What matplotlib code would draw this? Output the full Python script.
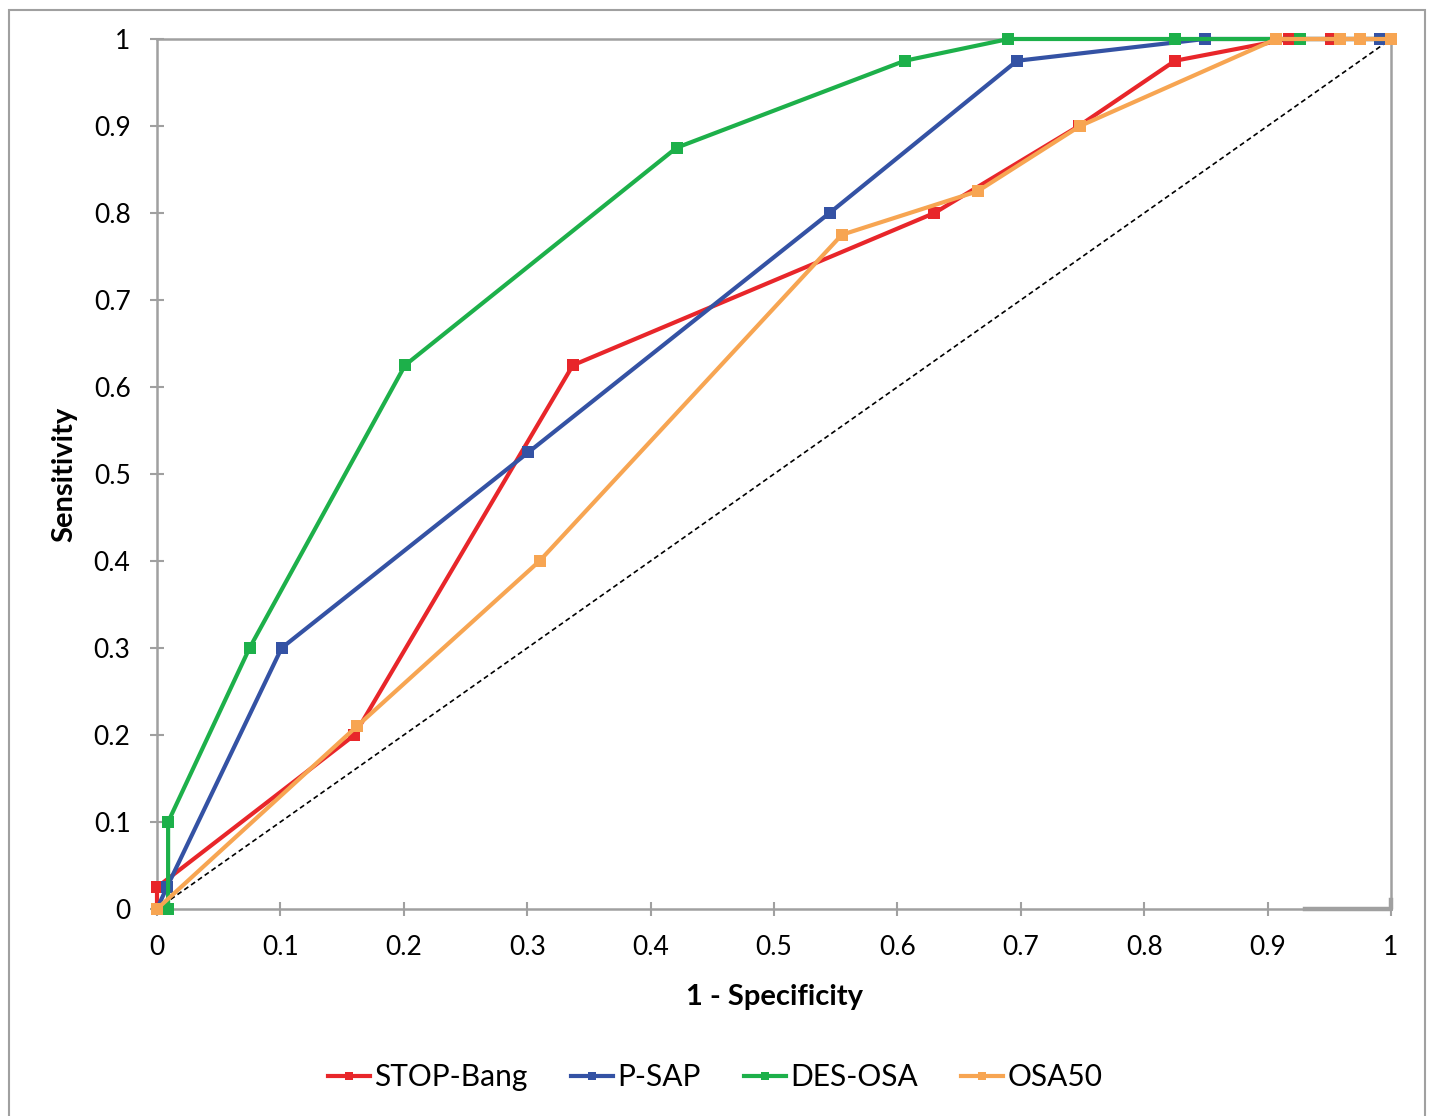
import matplotlib
matplotlib.use("Agg")
import matplotlib.pyplot as plt
from matplotlib.patches import Rectangle

plt.rcParams['font.family'] = ['Lato', 'DejaVu Sans']

# ---- data ----
stop_x = [0, 0, 0.160, 0.337, 0.630, 0.747, 0.825, 0.917, 0.951, 1.0]
stop_y = [0, 0.025, 0.200, 0.625, 0.800, 0.900, 0.975, 1.0, 1.0, 1.0]

psap_x = [0, 0.008, 0.101, 0.301, 0.545, 0.697, 0.849, 0.991, 1.0]
psap_y = [0, 0.025, 0.300, 0.525, 0.800, 0.975, 1.0, 1.0, 1.0]

des_x = [0, 0.009, 0.009, 0.075, 0.201, 0.421, 0.606, 0.690, 0.825, 0.926, 1.0]
des_y = [0, 0.0, 0.100, 0.300, 0.625, 0.875, 0.975, 1.0, 1.0, 1.0, 1.0]

osa_x = [0, 0.162, 0.310, 0.555, 0.665, 0.748, 0.907, 0.959, 0.975, 1.0]
osa_y = [0, 0.210, 0.400, 0.775, 0.825, 0.900, 1.0, 1.0, 1.0, 1.0]

diag_x = [0, 1]
diag_y = [0, 1]

edge_x = [0.93, 1.0, 1.0]
edge_y = [0.0, 0.0, 0.01]

series_names = ['STOP-Bang', 'P-SAP', 'DES-OSA', 'OSA50']
colors = ['#E8262A', '#3452A4', '#1DB04A', '#F7A552']

ticks = [0, 0.1, 0.2, 0.3, 0.4, 0.5, 0.6, 0.7, 0.8, 0.9, 1]
tick_labels = ['0', '0.1', '0.2', '0.3', '0.4', '0.5', '0.6', '0.7', '0.8', '0.9', '1']

fig = plt.figure(figsize=(14.31, 11.16), dpi=100)
ax = fig.add_axes([157/1431, 1-909/1116, (1391-157)/1431, (909-39)/1116])

# outer chart border
fig.patches.append(Rectangle((9/1431, -0.1), (1425-9)/1431, 1.1 - 10/1116,
                             transform=fig.transFigure, fill=False,
                             edgecolor='#A0A0A0', linewidth=1.5))

ax.plot(diag_x, diag_y, color='black', linestyle=(0, (3, 2)), linewidth=1.2, zorder=2)
ax.plot(edge_x, edge_y, color='#A0A0A0', linewidth=3.2, zorder=2, clip_on=False)

data = [(stop_x, stop_y), (psap_x, psap_y), (des_x, des_y), (osa_x, osa_y)]
for (xs, ys), name, c in zip(data, series_names, colors):
    ax.plot(xs, ys, color=c, linewidth=3, marker='s', markersize=8,
            markeredgewidth=0, label=name, zorder=3, clip_on=False)

ax.set_xlim(0, 1)
ax.set_ylim(0, 1)
ax.set_xticks(ticks)
ax.set_xticklabels(tick_labels)
ax.set_yticks(ticks)
ax.set_yticklabels(tick_labels)
for s in ax.spines.values():
    s.set_color('#A0A0A0')
    s.set_linewidth(1.8)
ax.tick_params(axis='both', direction='inout', length=10, width=1.5, color='#A0A0A0',
               labelsize=19, labelcolor='black')
ax.tick_params(axis='x', pad=14)
ax.tick_params(axis='y', pad=14)

ax.set_xlabel('1 - Specificity', fontsize=21, fontweight='bold', labelpad=17)
ax.set_ylabel('Sensitivity', fontsize=21, fontweight='bold', labelpad=12)

leg = fig.legend(loc='center', bbox_to_anchor=(0.5, 1-1077/1116), ncol=4, frameon=False,
                 fontsize=21.5, handlelength=1.4, handletextpad=0.15, columnspacing=1.45,
                 markerscale=0.7)

fig.savefig('out.png', dpi=100)
